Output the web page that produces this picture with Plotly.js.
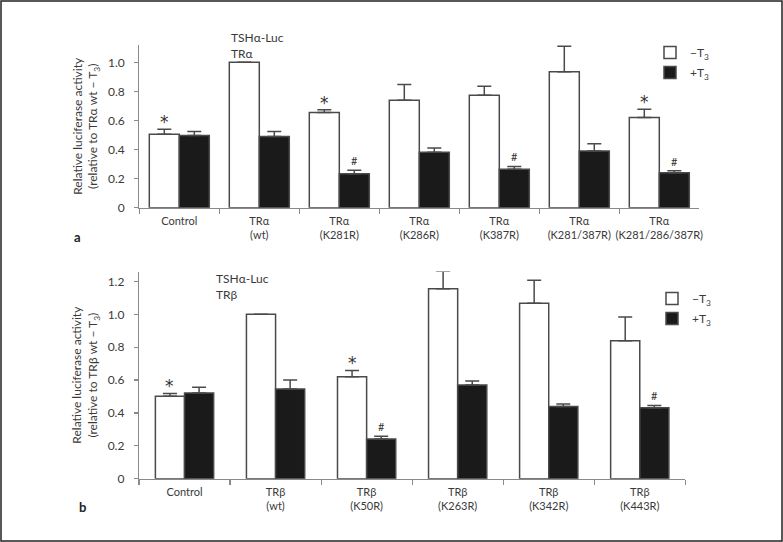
<!DOCTYPE html>
<html>
<head>
<meta charset="utf-8">
<script src="https://cdn.plot.ly/plotly-3.0.1.min.js"></script>
<style>html,body{margin:0;padding:0;background:#fff;}#chart{width:783px;height:542px;}</style>
</head>
<body>
<div id="chart"></div>
<script>
// ---------- Panel a (TRα) ----------
const catsA = ["Control", "TRα<br>(wt)", "TRα<br>(K281R)", "TRα<br>(K286R)", "TRα<br>(K387R)", "TRα<br>(K281/387R)", "TRα<br>(K281/286/387R)"];
const minusA = [0.505, 1.00, 0.655, 0.74, 0.773, 0.936, 0.62];
const minusErrA = [0.035, 0, 0.018, 0.107, 0.062, 0.174, 0.058];
const plusA = [0.497, 0.49, 0.234, 0.381, 0.264, 0.39, 0.241];
const plusErrA = [0.028, 0.035, 0.023, 0.03, 0.02, 0.05, 0.014];
const sigMinusA = ["*", "", "*", "", "", "", "*"];
const sigPlusA = ["", "", "#", "", "#", "", "#"];
const yTicksA = [0, 0.2, 0.4, 0.6, 0.8, 1.0];
const yTickTextA = ["0", "0.2", "0.4", "0.6", "0.8", "1.0"];

// ---------- Panel b (TRβ) ----------
const catsB = ["Control", "TRβ<br>(wt)", "TRβ<br>(K50R)", "TRβ<br>(K263R)", "TRβ<br>(K342R)", "TRβ<br>(K443R)"];
const minusB = [0.501, 1.00, 0.621, 1.156, 1.067, 0.84];
const minusErrB = [0.018, 0, 0.038, 0.106, 0.14, 0.144];
const plusB = [0.521, 0.546, 0.241, 0.57, 0.44, 0.432];
const plusErrB = [0.035, 0.054, 0.017, 0.024, 0.014, 0.014];
const sigMinusB = ["*", "", "*", "", "", ""];
const sigPlusB = ["", "", "#", "", "", "#"];
const yTicksB = [0, 0.2, 0.4, 0.6, 0.8, 1.0, 1.2];
const yTickTextB = ["0", "0.2", "0.4", "0.6", "0.8", "1.0", "1.2"];

const seriesNames = ["−T<sub>3</sub>", "+T<sub>3</sub>"];

const FONT = "Lato, 'Open Sans', sans-serif";
const TXT = "#3a3a3a";
const LINE = "#4a4a4a";
const AX = "#8a8a8a";
const wA = 0.375, wB = 0.32;

function barTrace(cats, vals, errs, name, fill, w, off, xa, ya, legend, group) {
  return {
    type: "bar", x: cats, y: vals, name: name,
    xaxis: xa, yaxis: ya, legend: legend, legendgroup: group, showlegend: true,
    width: w, offset: off,
    marker: {color: fill, line: {color: LINE, width: 1.5}},
    error_y: {type: "data", symmetric: false, array: errs, arrayminus: errs.map(() => 0),
              color: LINE, thickness: 1.5, width: 7},
    hoverinfo: "y"
  };
}

const data = [
  barTrace(catsA, minusA, minusErrA, seriesNames[0], "#ffffff", wA, -wA, "x", "y", "legend", "a1"),
  barTrace(catsA, plusA, plusErrA, seriesNames[1], "#1a1a1a", wA, 0, "x", "y", "legend", "a2"),
  barTrace(catsB, minusB, minusErrB, seriesNames[0], "#ffffff", wB, -wB, "x2", "y2", "legend2", "b1"),
  barTrace(catsB, plusB, plusErrB, seriesNames[1], "#1a1a1a", wB, 0, "x2", "y2", "legend2", "b2")
];

const annotations = [];
function sigMarks(vals, errs, sigs, off, xref, yref) {
  sigs.forEach((s, i) => {
    if (!s) return;
    const star = s === "*";
    annotations.push({
      x: i + off, y: vals[i] + errs[i], xref: xref, yref: yref,
      text: s, showarrow: false, yanchor: "bottom",
      yshift: star ? -5 : 1,
      font: {family: star ? "'DejaVu Sans', sans-serif" : FONT, size: star ? 17 : 11, color: "#333333"}
    });
  });
}
sigMarks(minusA, minusErrA, sigMinusA, -wA / 2, "x", "y");
sigMarks(plusA, plusErrA, sigPlusA, wA / 2, "x", "y");
sigMarks(minusB, minusErrB, sigMinusB, -wB / 2, "x2", "y2");
sigMarks(plusB, plusErrB, sigPlusB, wB / 2, "x2", "y2");

annotations.push(
  {xref: "paper", yref: "paper", x: 229 / 783, y: 1 - 28 / 542, xanchor: "left", yanchor: "top", align: "left",
   showarrow: false, text: "TSHα-Luc<br>TRα", font: {family: FONT, size: 12, color: TXT}},
  {xref: "paper", yref: "paper", x: 214 / 783, y: 1 - 269 / 542, xanchor: "left", yanchor: "top", align: "left",
   showarrow: false, text: "TSHα-Luc<br>TRβ", font: {family: FONT, size: 12, color: TXT}},
  {xref: "paper", yref: "paper", x: 77 / 783, y: 1 - 237 / 542, xanchor: "center", yanchor: "middle",
   showarrow: false, text: "<b>a</b>", font: {family: FONT, size: 13, color: "#222"}},
  {xref: "paper", yref: "paper", x: 82 / 783, y: 1 - 507 / 542, xanchor: "center", yanchor: "middle",
   showarrow: false, text: "<b>b</b>", font: {family: FONT, size: 13, color: "#222"}}
);

const xCommon = {
  type: "category", showline: true, linecolor: AX, linewidth: 1.2,
  ticks: "outside", tickson: "boundaries", ticklen: 5, tickcolor: AX, tickwidth: 1.2,
  tickangle: 0, automargin: false, ticklabelstandoff: 3,
  showgrid: false, zeroline: false, fixedrange: true,
  tickfont: {family: FONT, size: 11, color: TXT}
};
const yCommon = {
  showline: true, linecolor: AX, linewidth: 1.2,
  ticks: "outside", ticklen: 4, tickcolor: AX, tickwidth: 1.2,
  ticklabelstandoff: 7,
  showgrid: false, zeroline: false, fixedrange: true,
  tickfont: {family: FONT, size: 12, color: TXT}
};

const layout = {
  width: 783, height: 542,
  margin: {l: 0, r: 0, t: 0, b: 0},
  paper_bgcolor: "#ffffff", plot_bgcolor: "rgba(0,0,0,0)",
  barmode: "group",
  font: {family: FONT, color: TXT},
  xaxis: Object.assign({}, xCommon, {domain: [139.3 / 783, 699.3 / 783], anchor: "y"}),
  yaxis: Object.assign({}, yCommon, {domain: [1 - 207.7 / 542, 1 - 44.9 / 542], anchor: "x", range: [0, 1.12],
    tickvals: yTicksA, ticktext: yTickTextA,
    title: {text: "Relative luciferase activity<br>(relative to TRα wt − T<sub>3</sub>)", standoff: 7,
            font: {family: FONT, size: 12, color: TXT}}}),
  xaxis2: Object.assign({}, xCommon, {domain: [139 / 783, 685.3 / 783], anchor: "y2"}),
  yaxis2: Object.assign({}, yCommon, {domain: [1 - 478.7 / 542, 1 - 271.6 / 542], anchor: "x2", range: [0, 1.26],
    tickvals: yTicksB, ticktext: yTickTextB,
    title: {text: "Relative luciferase activity<br>(relative to TRβ wt − T<sub>3</sub>)", standoff: 7,
            font: {family: FONT, size: 12, color: TXT}}}),
  legend: {x: 650 / 783, y: 1 - 38 / 542, xanchor: "left", yanchor: "top", bgcolor: "rgba(0,0,0,0)",
           traceorder: "grouped", tracegroupgap: 1,
           font: {family: FONT, size: 12, color: TXT}},
  legend2: {x: 652 / 783, y: 1 - 284 / 542, xanchor: "left", yanchor: "top", bgcolor: "rgba(0,0,0,0)",
            traceorder: "grouped", tracegroupgap: 1,
            font: {family: FONT, size: 12, color: TXT}},
  annotations: annotations,
  shapes: [{type: "rect", xref: "paper", yref: "paper", x0: 1 / 783, x1: 782 / 783, y0: 1 / 542, y1: 541 / 542,
            line: {color: "#222", width: 1.5}}]
};

Plotly.newPlot("chart", data, layout, {displayModeBar: false, staticPlot: true});
</script>
</body>
</html>
